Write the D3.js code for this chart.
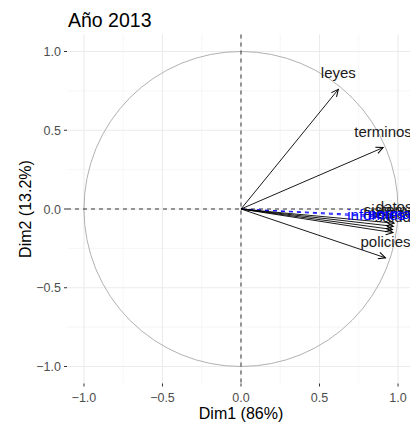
<!DOCTYPE html>
<html>
<head>
<meta charset="utf-8">
<script src="https://cdn.jsdelivr.net/npm/d3@7"></script>
<style>
  body { margin: 0; background: #fff; }
  svg { display: block; font-family: "Liberation Sans", Arial, sans-serif; }
</style>
</head>
<body>
<svg id="chart" width="410" height="425"></svg>
<script>
// active variables (black, solid)
const varNames = ["leyes", "terminos", "policies", "datos", "sistemas", "mercado", "salud"];
const varDim1 = [0.62, 0.905, 0.92, 0.975, 0.97, 0.965, 0.968];
const varDim2 = [0.76, 0.39, -0.31, -0.09, -0.11, -0.13, -0.15];

// supplementary variables (blue, dashed)
const supNames = ["informes", "normas"];
const supDim1 = [0.86, 0.97];
const supDim2 = [-0.05, -0.045];

const ticks = [-1.0, -0.5, 0.0, 0.5, 1.0];
const minorTicks = [-0.75, -0.25, 0.25, 0.75];

const svg = d3.select("#chart");
const x = d3.scaleLinear().domain([-1.108, 1.108]).range([67, 415]);
const y = d3.scaleLinear().domain([-1.108, 1.108]).range([383.5, 34.5]);

const defs = svg.append("defs");
function addMarker(id, color) {
    defs.append("marker")
        .attr("id", id)
        .attr("viewBox", "-10 -6 12 12")
        .attr("refX", 0).attr("refY", 0)
        .attr("markerWidth", 12).attr("markerHeight", 12)
        .attr("markerUnits", "userSpaceOnUse")
        .attr("orient", "auto")
        .append("path")
        .attr("d", "M-7,-3.3L0,0L-7,3.3")
        .attr("fill", "none")
        .attr("stroke", color)
        .attr("stroke-width", 1);
}
addMarker("arr-black", "black");
addMarker("arr-blue", "blue");

// grid
const g = svg.append("g");
g.selectAll(".vmin").data(minorTicks).enter().append("line")
    .attr("x1", d => x(d)).attr("x2", d => x(d)).attr("y1", 34.5).attr("y2", 383.5)
    .attr("stroke", "#f0f0f0").attr("stroke-width", 0.6);
g.selectAll(".hmin").data(minorTicks).enter().append("line")
    .attr("y1", d => y(d)).attr("y2", d => y(d)).attr("x1", 67).attr("x2", 415)
    .attr("stroke", "#f0f0f0").attr("stroke-width", 0.6);
g.selectAll(".vmaj").data(ticks).enter().append("line")
    .attr("x1", d => x(d)).attr("x2", d => x(d)).attr("y1", 34.5).attr("y2", 383.5)
    .attr("stroke", "#ebebeb").attr("stroke-width", 1.1);
g.selectAll(".hmaj").data(ticks).enter().append("line")
    .attr("y1", d => y(d)).attr("y2", d => y(d)).attr("x1", 67).attr("x2", 415)
    .attr("stroke", "#ebebeb").attr("stroke-width", 1.1);

// circle
svg.append("ellipse")
    .attr("cx", x(0)).attr("cy", y(0))
    .attr("rx", x(1) - x(0)).attr("ry", y(0) - y(1))
    .attr("fill", "none").attr("stroke", "#a8a8a8").attr("stroke-width", 0.9);

// dashed axes
svg.append("line").attr("x1", 67).attr("x2", 415).attr("y1", y(0)).attr("y2", y(0))
    .attr("stroke", "#333").attr("stroke-width", 1).attr("stroke-dasharray", "4,4");
svg.append("line").attr("x1", x(0)).attr("x2", x(0)).attr("y1", 34.5).attr("y2", 383.5)
    .attr("stroke", "#333").attr("stroke-width", 1).attr("stroke-dasharray", "4,4");

// supplementary arrows
const sup = supNames.map((n, i) => ({ name: n, d1: supDim1[i], d2: supDim2[i] }));
svg.selectAll(".sup").data(sup).enter().append("line")
    .attr("x1", x(0)).attr("y1", y(0))
    .attr("x2", d => x(d.d1)).attr("y2", d => y(d.d2))
    .attr("stroke", "blue").attr("stroke-width", 0.9)
    .attr("stroke-dasharray", "4,4")
    .attr("marker-end", "url(#arr-blue)");

// active arrows
const vars = varNames.map((n, i) => ({ name: n, d1: varDim1[i], d2: varDim2[i] }));
svg.selectAll(".var").data(vars).enter().append("line")
    .attr("x1", x(0)).attr("y1", y(0))
    .attr("x2", d => x(d.d1)).attr("y2", d => y(d.d2))
    .attr("stroke", "black").attr("stroke-width", 0.9)
    .attr("marker-end", "url(#arr-black)");

// labels
svg.selectAll(".vlab").data(vars).enter().append("text")
    .attr("x", d => x(d.d1)).attr("y", d => y(d.d2) - 11)
    .attr("text-anchor", "middle").attr("font-size", 15)
    .attr("fill", "#1a1a1a")
    .text(d => d.name);
svg.selectAll(".slab").data(sup).enter().append("text")
    .attr("x", d => x(d.d1)).attr("y", d => y(d.d2) + 3)
    .attr("text-anchor", "middle").attr("font-size", 15)
    .attr("fill", "blue")
    .text(d => d.name);

// axes ticks + labels
const xAxis = svg.append("g").attr("transform", "translate(0,383.5)");
xAxis.selectAll("line").data(ticks).enter().append("line")
    .attr("x1", d => x(d)).attr("x2", d => x(d)).attr("y1", 0).attr("y2", 3)
    .attr("stroke", "#333");
xAxis.selectAll("text").data(ticks).enter().append("text")
    .attr("x", d => x(d)).attr("y", 18)
    .attr("text-anchor", "middle").attr("font-size", 12.5).attr("fill", "#4d4d4d")
    .text(d => d3.format(".1f")(d));

const yAxis = svg.append("g").attr("transform", "translate(67,0)");
yAxis.selectAll("line").data(ticks).enter().append("line")
    .attr("y1", d => y(d)).attr("y2", d => y(d)).attr("x1", -3).attr("x2", 0)
    .attr("stroke", "#333");
yAxis.selectAll("text").data(ticks).enter().append("text")
    .attr("x", -6).attr("y", d => y(d) + 4.5)
    .attr("text-anchor", "end").attr("font-size", 12.5).attr("fill", "#4d4d4d")
    .text(d => d3.format(".1f")(d));

// titles
svg.append("text").attr("x", 68).attr("y", 27)
    .attr("font-size", 19.5).attr("fill", "#000").text("Año 2013");
svg.append("text").attr("x", x(0)).attr("y", 419)
    .attr("text-anchor", "middle").attr("font-size", 16).attr("fill", "#000")
    .text("Dim1 (86%)");
svg.append("text").attr("transform", `translate(31,${y(0)}) rotate(-90)`)
    .attr("text-anchor", "middle").attr("font-size", 16).attr("fill", "#000")
    .text("Dim2 (13.2%)");
</script>
</body>
</html>
